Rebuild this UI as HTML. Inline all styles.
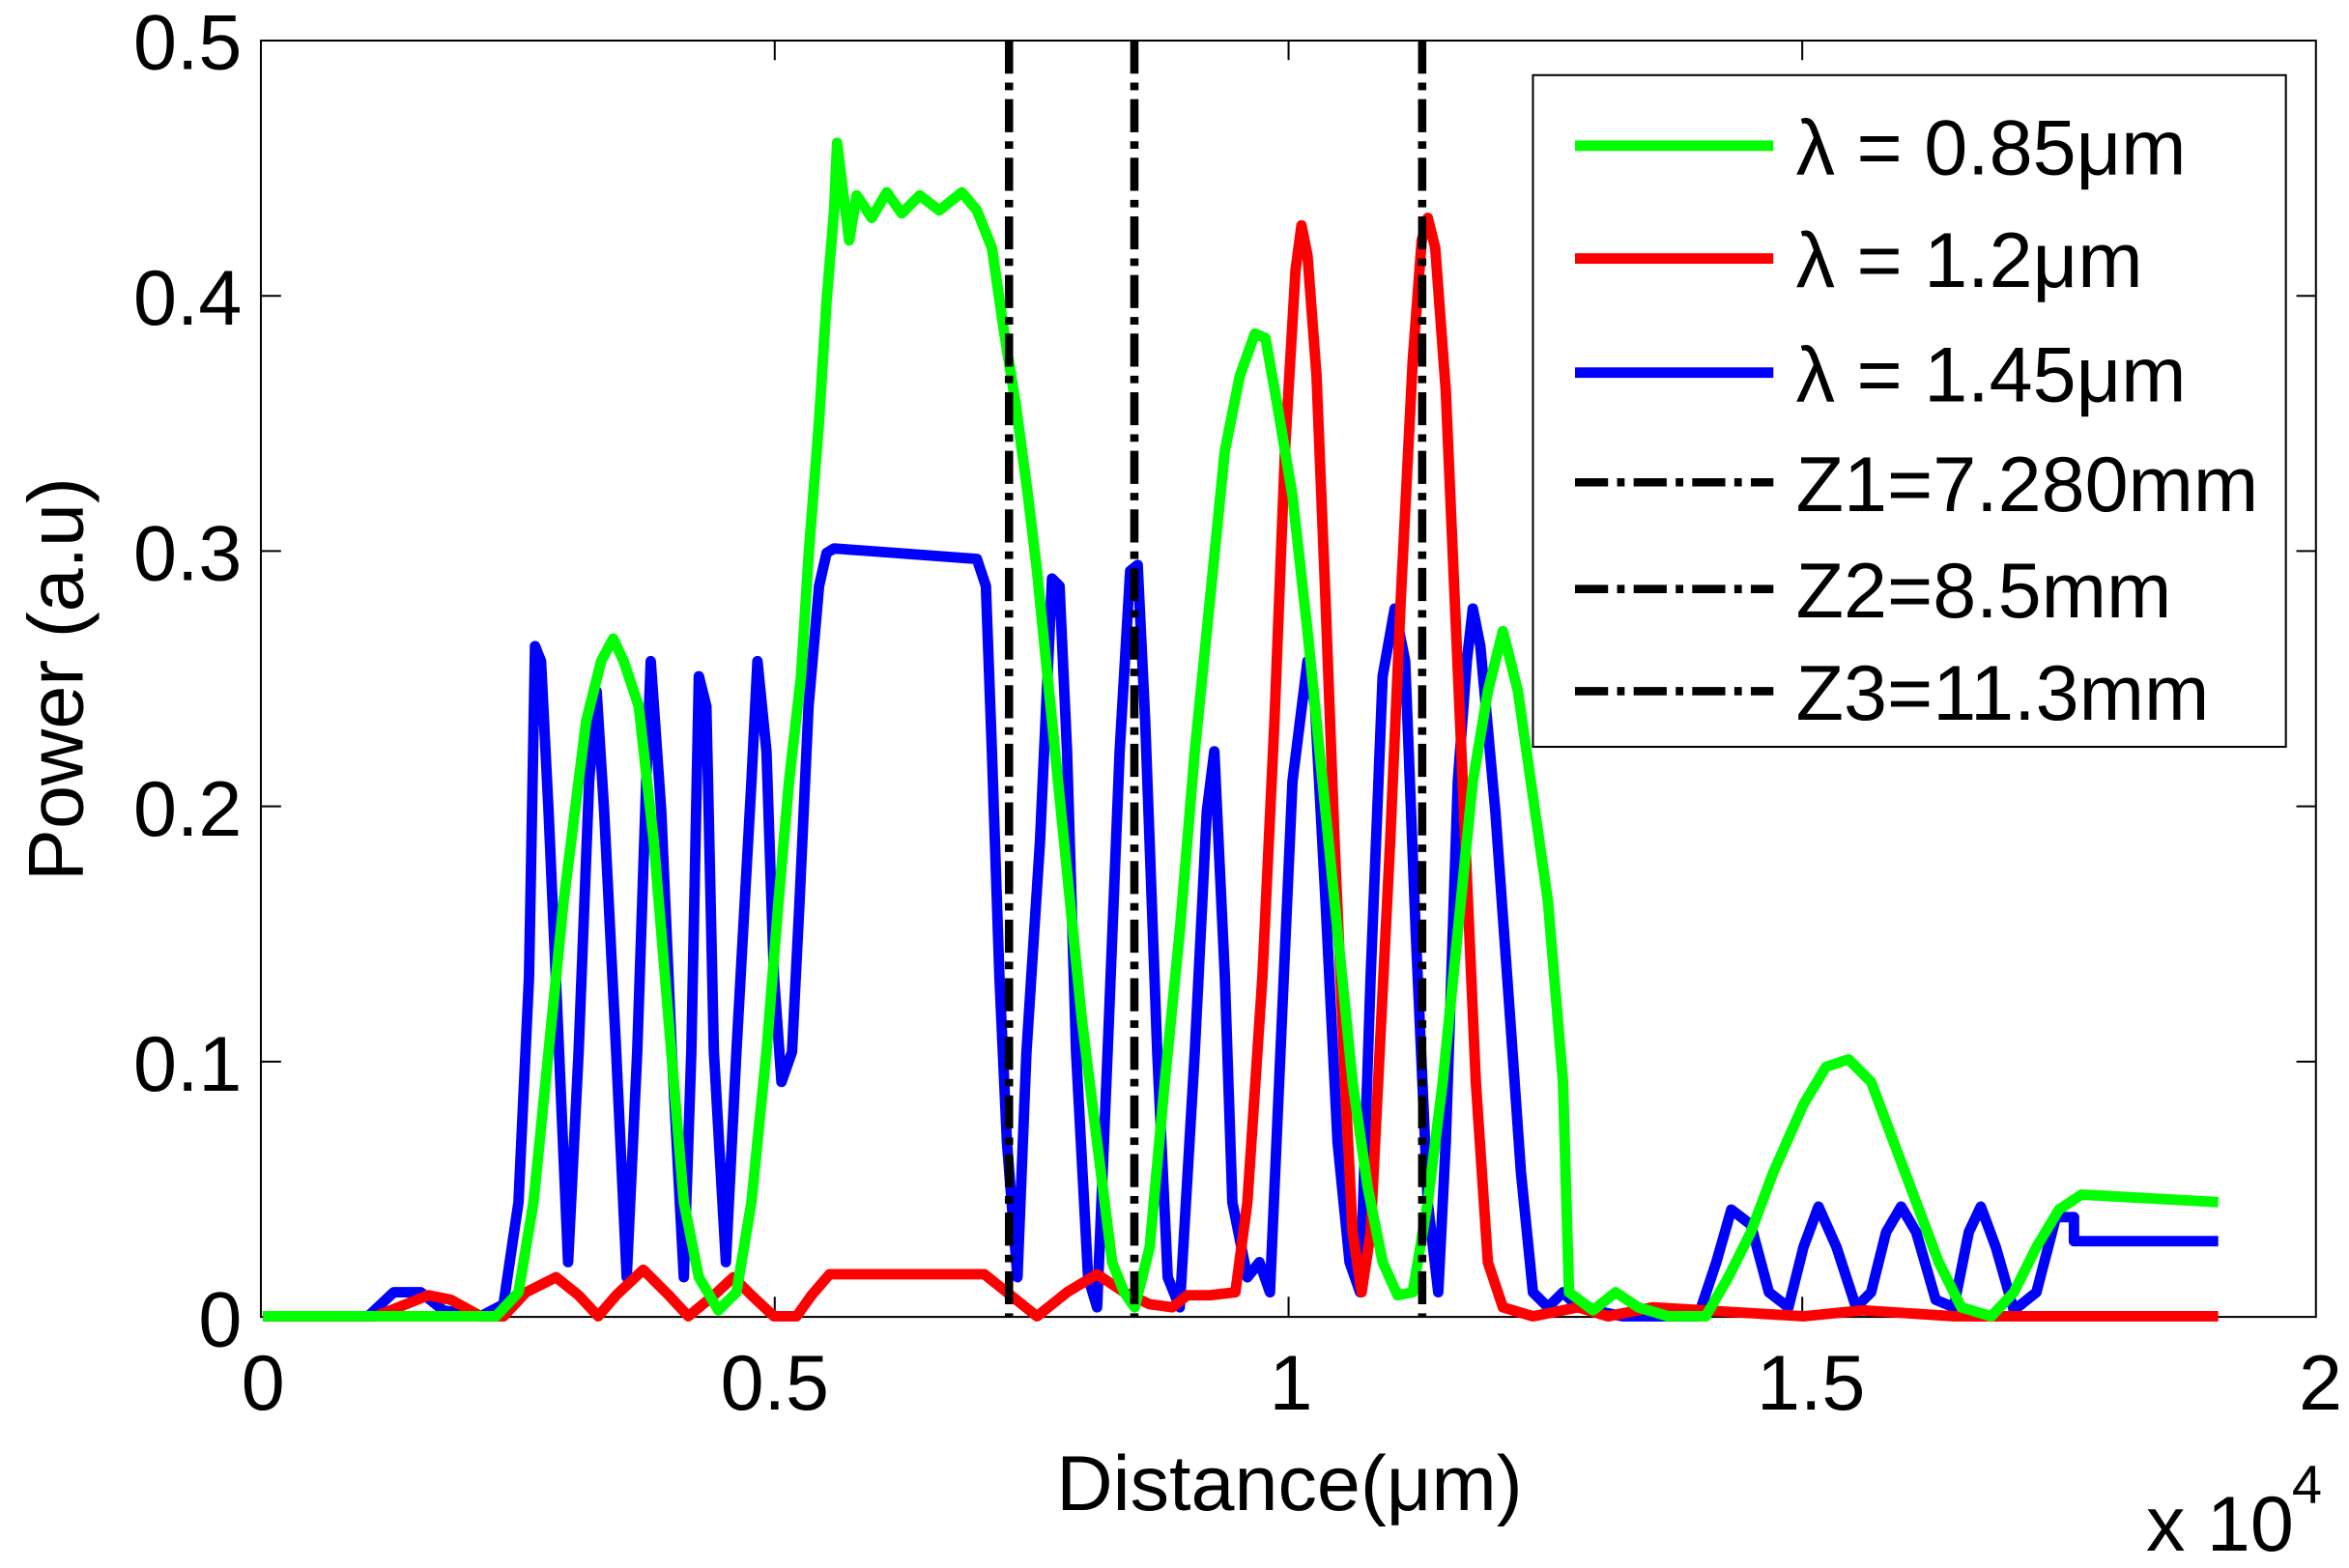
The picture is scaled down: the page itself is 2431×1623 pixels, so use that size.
<!DOCTYPE html>
<html><head><meta charset="utf-8"><style>
html,body{margin:0;padding:0;background:#fff;}
svg{display:block;}
text{font-family:"Liberation Sans",Arial,sans-serif;fill:#000;}
</style></head><body>
<svg width="2431" height="1623" viewBox="0 0 1563 1043.5" xmlns="http://www.w3.org/2000/svg">
<rect x="0" y="0" width="1563" height="1043.5" fill="#fff"/>
<rect x="173.6" y="27" width="1367.4" height="849.4" fill="none" stroke="#000" stroke-width="1.3"/>
<g stroke="#000" stroke-width="1.3">
<line x1="173.6" y1="706.5" x2="187" y2="706.5"/><line x1="1541" y1="706.5" x2="1528" y2="706.5"/>
<line x1="173.6" y1="536.6" x2="187" y2="536.6"/><line x1="1541" y1="536.6" x2="1528" y2="536.6"/>
<line x1="173.6" y1="366.7" x2="187" y2="366.7"/><line x1="1541" y1="366.7" x2="1528" y2="366.7"/>
<line x1="173.6" y1="196.9" x2="187" y2="196.9"/><line x1="1541" y1="196.9" x2="1528" y2="196.9"/>
<line x1="515.5" y1="876.4" x2="515.5" y2="863"/><line x1="515.5" y1="27" x2="515.5" y2="40"/>
<line x1="857.4" y1="876.4" x2="857.4" y2="863"/><line x1="857.4" y1="27" x2="857.4" y2="40"/>
<line x1="1199.2" y1="876.4" x2="1199.2" y2="863"/><line x1="1199.2" y1="27" x2="1199.2" y2="40"/>
</g>
<g font-size="52" text-anchor="end">
<text x="161" y="896">0</text>
<text x="161" y="726">0.1</text>
<text x="161" y="556">0.2</text>
<text x="161" y="386">0.3</text>
<text x="161" y="216">0.4</text>
<text x="161" y="46">0.5</text>
</g>
<g font-size="52" text-anchor="middle">
<text x="175" y="938">0</text>
<text x="515.5" y="938">0.5</text>
<text x="859" y="938">1</text>
<text x="1205" y="938">1.5</text>
<text x="1544" y="938">2</text>
<text x="858" y="1005">Distance(μm)</text>
</g>
<text font-size="52" x="1428" y="1032">x 10</text>
<text font-size="36" x="1525" y="1000">4</text>
<text font-size="52" text-anchor="middle" transform="translate(55,452) rotate(-90)">Power (a.u)</text>

<g fill="none" stroke-linejoin="round" stroke-width="7">
<polyline stroke="#0000ff" points="175,876 245,876 262,860 280,860 295,872 320,876 335,868 345,800 352,650 356,430 360,440 365,540 372,700 378,840 385,700 392,520 397,460 402,540 410,700 417,850 424,700 430,520 433,440 440,540 447,700 455,850 460,700 465,450 470,470 475,700 483,840 490,700 500,520 504,440 510,500 515,650 520,720 527,700 532,600 538,470 545,390 550,368 555,365 650,372 656,390 660,500 665,650 670,760 677,850 683,700 692,560 700,385 705,390 710,500 716,700 724,850 730,870 737,700 745,500 752,380 757,376 762,480 770,700 777,850 785,870 795,700 803,540 808,500 815,650 820,800 830,850 838,840 845,860 852,700 860,520 870,440 875,470 882,600 890,760 898,840 905,860 912,650 920,450 928,405 935,440 942,620 950,800 957,860 962,760 970,520 976,440 980,405 985,430 995,540 1005,680 1012,780 1020,860 1030,870 1040,860 1050,870 1080,876 1130,876 1142,840 1152,805 1165,815 1177,860 1190,870 1200,830 1210,803 1222,830 1235,870 1245,860 1255,820 1265,803 1275,820 1288,865 1300,870 1310,820 1318,803 1328,830 1340,872 1355,860 1368,810 1380,810 1380,826 1476,826"/>
<polyline stroke="#ff0000" points="175,876 250,876 265,870 285,862 300,865 320,876 335,876 350,860 370,850 385,862 398,876 410,862 428,845 445,862 458,876 475,862 488,850 500,862 515,876 530,876 540,862 552,848 655,848 670,860 690,876 710,860 730,848 748,860 765,868 780,870 790,862 805,862 822,860 830,800 840,650 848,480 855,300 862,180 866,150 870,170 876,250 882,400 888,560 895,720 900,820 906,860 912,820 918,700 925,560 932,400 940,240 946,160 950,145 955,165 962,260 968,400 975,560 982,720 990,840 1000,870 1020,876 1050,870 1070,876 1100,870 1200,876 1240,872 1300,876 1476,876"/>
<polyline stroke="#00ff00" points="175,876 330,876 345,860 355,800 365,700 375,600 390,480 400,440 408,425 415,440 425,470 435,560 445,680 455,800 465,850 478,872 490,860 500,800 510,700 518,600 525,520 533,450 538,370 545,280 550,200 555,140 557,95 560,120 565,160 570,130 580,145 590,128 600,142 612,130 625,140 640,128 650,140 660,165 668,220 676,270 684,330 690,380 700,480 710,580 720,680 730,760 740,840 748,860 755,870 765,830 775,720 785,620 795,500 805,400 815,300 825,250 835,222 842,225 850,270 860,330 870,420 880,520 890,620 900,720 910,790 920,840 930,862 940,860 950,800 960,720 970,620 980,520 990,460 1000,420 1010,460 1020,530 1030,600 1040,720 1044,860 1060,872 1075,860 1090,870 1110,876 1135,876 1150,850 1165,820 1180,780 1200,735 1215,710 1230,705 1245,720 1260,760 1275,800 1290,840 1305,870 1325,876 1340,860 1355,830 1370,805 1385,795 1476,800"/>
</g>
<g stroke="#000" stroke-width="5.5" stroke-dasharray="22,6,5,6">
<line x1="671.4" y1="27" x2="671.4" y2="876"/>
<line x1="754.8" y1="27" x2="754.8" y2="876"/>
<line x1="946.3" y1="27" x2="946.3" y2="876"/>
</g>
<rect x="1020" y="50" width="501" height="447" fill="#fff" stroke="#000" stroke-width="1.3"/>
<g stroke-width="7">
<line x1="1048" y1="97" x2="1180" y2="97" stroke="#00ff00"/>
<line x1="1048" y1="172" x2="1180" y2="172" stroke="#ff0000"/>
<line x1="1048" y1="248" x2="1180" y2="248" stroke="#0000ff"/>
</g>
<g stroke="#000" stroke-width="5.5" stroke-dasharray="22,6,5,6">
<line x1="1048" y1="321" x2="1180" y2="321"/>
<line x1="1048" y1="392" x2="1180" y2="392"/>
<line x1="1048" y1="460" x2="1180" y2="460"/>
</g>
<g font-size="52">
<text x="1195" y="116">λ = 0.85μm</text>
<text x="1195" y="191">λ = 1.2μm</text>
<text x="1195" y="267">λ = 1.45μm</text>
<text x="1195" y="340">Z1=7.280mm</text>
<text x="1195" y="411">Z2=8.5mm</text>
<text x="1195" y="479">Z3=11.3mm</text>
</g>
</svg>
</body></html>
